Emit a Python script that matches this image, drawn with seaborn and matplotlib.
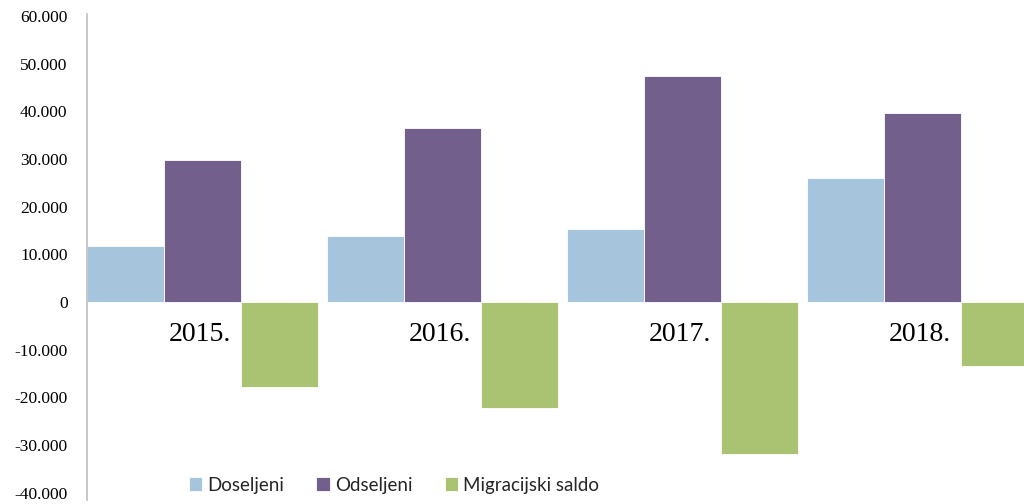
import pandas as pd
import seaborn as sns
import matplotlib
matplotlib.use("Agg")
import matplotlib.pyplot as plt
from matplotlib.ticker import FuncFormatter

# Data
years = ["2015.", "2016.", "2017.", "2018."]
series = ["Doseljeni", "Odseljeni", "Migracijski saldo"]
doseljeni = [11700, 13900, 15400, 26100]
odseljeni = [29700, 36500, 47400, 39600]
saldo = [-17900, -22300, -31800, -13400]

colors = ["#a7c4dd", "#735f8b", "#aac372"]

df = pd.DataFrame({
    "year": years * 3,
    "series": [series[0]] * 4 + [series[1]] * 4 + [series[2]] * 4,
    "value": doseljeni + odseljeni + saldo,
})

sns.set_style("white")
fig = plt.figure(figsize=(10.24, 5.04), dpi=100)
ax = fig.add_axes([87 / 1024, 4 / 504, 1 - 87 / 1024, 485.6 / 504])

w = 0.9625
sns.barplot(data=df, x="year", y="value", hue="series", palette=colors,
            saturation=1, width=w, ax=ax, edgecolor="white", linewidth=0.6,
            legend=True)

ax.set_xlim(-w / 2, -w / 2 + 937 / 240)
ax.set_ylim(-41500, 60300)
ax.set_yticks(range(-40000, 60001, 10000))
ax.yaxis.set_major_formatter(FuncFormatter(lambda v, p: f"{int(v):,}".replace(",", ".")))
ax.tick_params(axis="y", length=0, pad=14, colors="black")
for lab in ax.get_yticklabels():
    lab.set_fontfamily("Liberation Serif")
    lab.set_fontsize(12.5)
    lab.set_color("black")

ax.set_xticks([])
ax.set_xlabel("")
ax.set_ylabel("")
for s in ["top", "right", "bottom"]:
    ax.spines[s].set_visible(False)
ax.spines["left"].set_color("#bdbdbd")
ax.spines["left"].set_linewidth(1.2)

# year labels just below zero, left of the saldo bar
for i, y in enumerate(years):
    ax.text(i + 0.12, -6900, y, ha="right", va="center",
            fontfamily="Liberation Serif", fontsize=20, color="black")

handles, labels = ax.get_legend_handles_labels()
ax.legend(handles, labels, loc="center left", bbox_to_anchor=(172 / 1024, 1 - 485 / 504),
          bbox_transform=fig.transFigure, ncol=3, frameon=False,
          prop={"family": "Lato", "size": 13.5}, handlelength=0.7, handleheight=0.7,
          handletextpad=0.3, columnspacing=1.7)

fig.savefig("out.png", dpi=100)
